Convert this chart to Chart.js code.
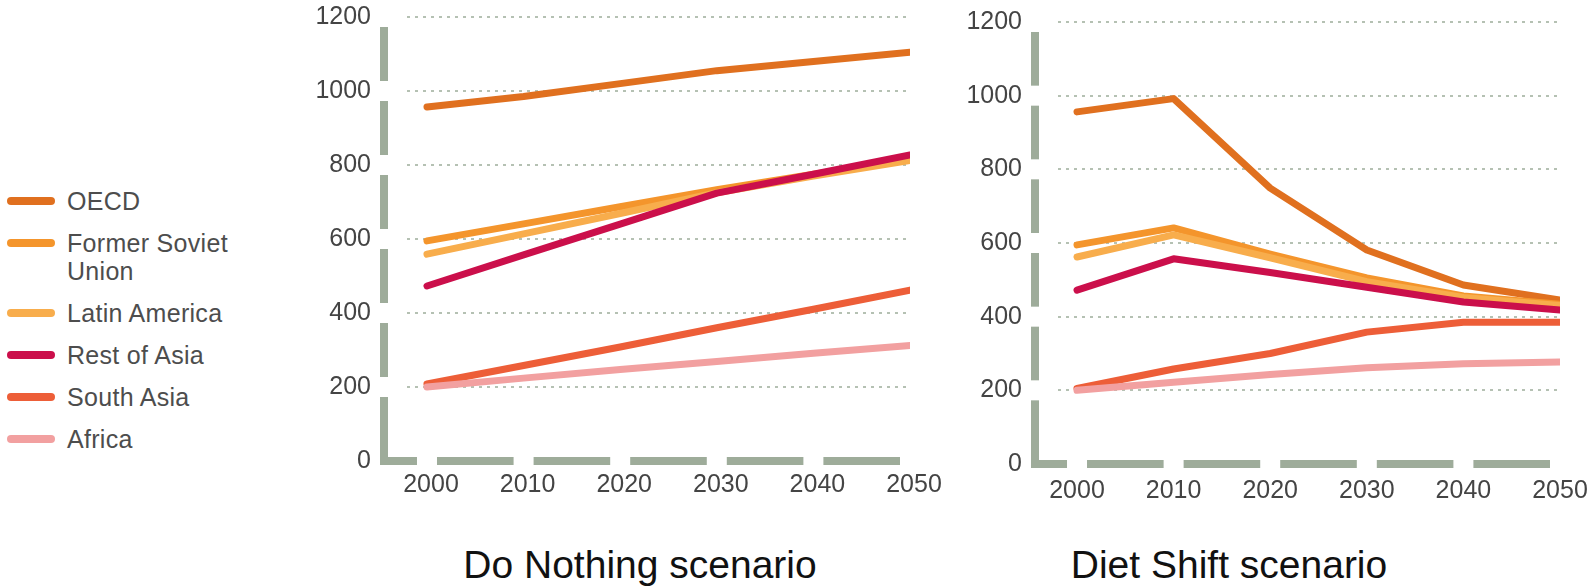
<!DOCTYPE html>
<html>
<head>
<meta charset="utf-8">
<script src="https://cdn.jsdelivr.net/npm/chart.js@4.4.0/dist/chart.umd.min.js"></script>
<style>
    body { margin: 0; background: #fff; width: 1591px; height: 587px; position: relative; overflow: hidden;
           font-family: "Liberation Sans", Arial, sans-serif; }
    .box { position: absolute; }
    #legend { position: absolute; left: 7px; top: 187px; width: 260px; }
    .item { display: flex; align-items: flex-start; margin-bottom: 14px; }
    .swatch { width: 48px; height: 8px; border-radius: 4px; margin-top: 10px; flex: none; }
    .label { margin-left: 12px; width: 185px; font-size: 25px; letter-spacing: 0.3px; line-height: 28px; color: #4d4d4d; }
    .title { position: absolute; top: 545px; width: 500px; text-align: center; font-size: 39px; line-height: 39px; color: #111; }
</style>
</head>
<body>
<div id="legend"></div>
<div class="box" style="left:290px; top:0; width:660px; height:500px"><canvas id="doNothing"></canvas></div>
<div class="box" style="left:940px; top:0; width:651px; height:504px"><canvas id="dietShift"></canvas></div>
<div class="title" style="left:390px">Do Nothing scenario</div>
<div class="title" style="left:979px">Diet Shift scenario</div>

<script>
const years = [2000, 2010, 2020, 2030, 2040, 2050];
const yTicks = [0, 200, 400, 600, 800, 1000, 1200];
const regions = ['OECD', 'Former Soviet Union', 'Latin America', 'Rest of Asia', 'South Asia', 'Africa'];
const colors = ['#e0701f', '#f4952c', '#f8ad4c', '#cb0f4b', '#ed5e38', '#f2a0a0'];

// Do Nothing scenario
const doNothingOECD = [957, 985, 1020, 1055, 1080, 1105];
const doNothingFSU = [595, 641, 687, 733, 775, 815];
const doNothingLatAm = [559, 614, 669, 725, 770, 812];
const doNothingRestAsia = [473, 557, 640, 724, 775, 827];
const doNothingSouthAsia = [208, 258, 308, 360, 410, 462];
const doNothingAfrica = [200, 224, 247, 269, 291, 312];

// Diet Shift scenario
const dietShiftOECD = [956, 992, 749, 581, 486, 445];
const dietShiftFSU = [595, 641, 570, 505, 456, 434];
const dietShiftLatAm = [562, 622, 560, 495, 452, 430];
const dietShiftRestAsia = [472, 557, 520, 480, 440, 418];
const dietShiftSouthAsia = [205, 258, 300, 358, 385, 385];
const dietShiftAfrica = [200, 222, 243, 261, 272, 277];

Chart.defaults.font.family = '"Liberation Sans", Arial, sans-serif';

// Legend
const legend = document.getElementById('legend');
regions.forEach((name, i) => {
    const item = document.createElement('div');
    item.className = 'item';
    item.innerHTML = '<span class="swatch" style="background:' + colors[i] + '"></span><span class="label">' + name + '</span>';
    legend.appendChild(item);
});

const axisColor = '#9eac9a';

// dotted grid + broken L-shaped axes, positioned from the scales
const axisDecor = {
    id: 'axisDecor',
    beforeDatasetsDraw(chart) {
        const { ctx, chartArea: a, scales } = chart;
        const y = scales.y, x = scales.x;
        ctx.save();

        ctx.strokeStyle = '#b5c1b3';
        ctx.lineWidth = 2;
        ctx.setLineDash([3, 5]);
        yTicks.forEach(v => {
            if (v === 0) return;
            const py = Math.round(y.getPixelForValue(v));
            ctx.beginPath();
            ctx.moveTo(a.left + 23, py);
            ctx.lineTo(a.right - 2, py);
            ctx.stroke();
        });

        ctx.setLineDash([]);
        ctx.strokeStyle = axisColor;
        ctx.lineWidth = 8;
        ctx.lineCap = 'butt';

        // vertical axis, gaps centred on the ticks
        const ys = yTicks.map(v => y.getPixelForValue(v)).sort((p, q) => p - q);
        for (let i = 0; i < ys.length - 1; i++) {
            const top = ys[i] + 10;
            const bottom = i === ys.length - 2 ? ys[i + 1] + 4 : ys[i + 1] - 10;
            ctx.beginPath();
            ctx.moveTo(a.left, top);
            ctx.lineTo(a.left, bottom);
            ctx.stroke();
        }

        // horizontal axis, gaps centred on the years
        let start = a.left - 4;
        years.forEach(v => {
            const px = x.getPixelForValue(v);
            ctx.beginPath();
            ctx.moveTo(start, a.bottom);
            ctx.lineTo(px - 10, a.bottom);
            ctx.stroke();
            start = px + 10;
        });
        ctx.restore();
    }
};

function makeChart(id, series, opts) {
    const ctx = document.getElementById(id).getContext('2d');
    return new Chart(ctx, {
        type: 'line',
        data: {
            datasets: series.map((vals, i) => ({
                label: regions[i],
                data: years.map((yr, j) => ({ x: yr, y: vals[j] })),
                borderColor: colors[i],
                backgroundColor: colors[i],
                borderWidth: 7,
                borderCapStyle: 'round',
                borderJoinStyle: 'round',
                pointRadius: 0,
                tension: 0,
                order: series.length - i
            }))
        },
        options: {
            responsive: true,
            maintainAspectRatio: false,
            animation: false,
            layout: { padding: { top: opts.top, right: opts.right, left: 0, bottom: 0 } },
            plugins: { legend: { display: false }, tooltip: { enabled: false } },
            scales: {
                x: {
                    type: 'linear',
                    min: opts.dataMin,
                    max: 2050,
                    afterBuildTicks: s => { s.ticks = years.map(v => ({ value: v })); },
                    afterFit: s => { s.height = opts.xHeight; s.paddingLeft = 0; s.paddingRight = 0; },
                    grid: { display: false, drawTicks: false },
                    border: { display: false },
                    ticks: { callback: v => String(v), padding: opts.xPad, labelOffset: opts.labelShift,
                             maxRotation: 0, font: { size: 25 }, color: '#444' }
                },
                y: {
                    min: 0,
                    max: 1200,
                    afterBuildTicks: s => { s.ticks = yTicks.map(v => ({ value: v })); },
                    afterFit: s => { s.width = opts.yWidth; s.paddingTop = 0; s.paddingBottom = 0; },
                    grid: { display: false, drawTicks: false },
                    border: { display: false },
                    ticks: { callback: v => String(v), padding: 13, font: { size: 25 }, color: '#444' }
                }
            }
        },
        plugins: [axisDecor]
    });
}

makeChart('doNothing',
    [doNothingOECD, doNothingFSU, doNothingLatAm, doNothingRestAsia, doNothingSouthAsia, doNothingAfrica],
    { top: 17, right: 40, yWidth: 94, xHeight: 39, xPad: 9, labelShift: 4, dataMin: 1995.55 });

makeChart('dietShift',
    [dietShiftOECD, dietShiftFSU, dietShiftLatAm, dietShiftRestAsia, dietShiftSouthAsia, dietShiftAfrica],
    { top: 22, right: 31, yWidth: 95, xHeight: 40, xPad: 12, labelShift: 0, dataMin: 1995.65 });
</script>
</body>
</html>
